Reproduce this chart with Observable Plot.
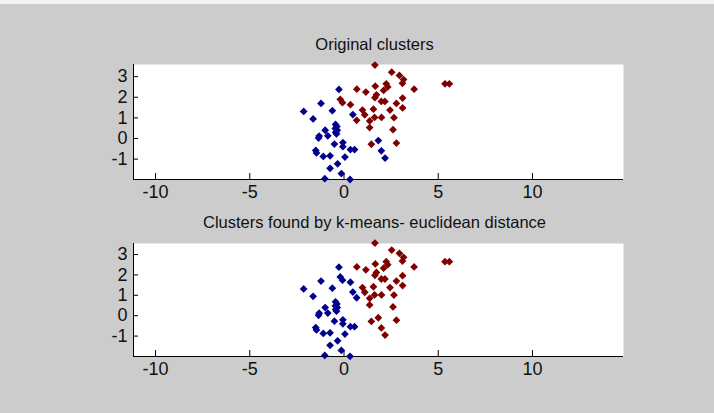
<!DOCTYPE html>
<html><head><meta charset="utf-8">
<script src="https://cdn.jsdelivr.net/npm/d3@7"></script>
<script src="https://cdn.jsdelivr.net/npm/@observablehq/plot@0.6"></script>
<style>
html,body{margin:0;padding:0;background:#cccccc;}
#fig{position:relative;width:714px;height:413px;background:#cccccc;overflow:hidden;}
#fig .topline{position:absolute;left:0;top:0;width:714px;height:4px;background:#f2f2f2;}
#fig svg{position:absolute;left:0;}
</style></head><body><div id="fig"><div class="topline"></div></div>
<script>
// point coordinates (same points in both panels)
const xValues = [1.64, 2.53, 2.94, 3.16, 3.10, 5.36, 5.59, 3.72, 1.66, 2.24, 2.32, 2.10, 0.68, 1.16, 1.72, 1.64, 1.98, 2.17, 3.11, 2.78, 3.11,
  -0.20, -0.08, 0.34, 0.98, 1.10, 1.56, 2.44, 1.62, 1.99, 2.65, 0.67, 1.36, 1.36, 2.60, 1.45, 2.78,
  -0.27, -1.22, -0.62, -2.14, -1.64, 0.47, -0.45, -0.38, -0.46, -0.36, -0.44, -0.40, -1.00, -0.86, -1.32, -1.35,
  -0.51, -0.06, -0.06, 1.82, 0.34, 0.56, -1.50, -1.46, 1.98, 2.18, -1.10, -0.74, 0.05, -0.34, -0.74, -0.14, -1.02, 0.32];
const yValues = [3.56, 3.22, 3.06, 2.86, 2.68, 2.65, 2.65, 2.39, 2.54, 2.65, 2.50, 2.33, 2.39, 2.25, 2.12, 1.98, 1.80, 1.80, 1.96, 1.70, 1.48,
  1.90, 1.74, 1.64, 1.38, 1.15, 1.42, 1.38, 1.02, 1.02, 1.01, 0.88, 0.85, 0.53, 0.43, -0.28, -0.22,
  2.38, 1.70, 1.35, 1.31, 0.95, 1.16, 0.68, 0.58, 0.48, 0.40, 0.30, 0.22, 0.40, 0.13, 0.12, 0.02,
  -0.27, -0.20, -0.40, -0.10, -0.54, -0.54, -0.58, -0.70, -0.60, -0.95, -0.87, -0.84, -0.90, -1.23, -1.45, -1.70, -1.95, -1.99];
// cluster labels: 1 = blue, 2 = red
const originalClusters = [2,2,2,2,2,2,2,2,2,2,2,2,2,2,2,2,2,2,2,2,2,
  2,2,2,2,2,2,2,2,2,2,2,2,2,2,2,2,
  1,1,1,1,1,1,1,1,1,1,1,1,1,1,1,1,
  1,1,1,1,1,1,1,1,1,1,1,1,1,1,1,1,1,1];
const kmeansClusters = [2,2,2,2,2,2,2,2,2,2,2,2,2,2,2,2,2,2,2,2,2,
  1,1,1,2,2,2,2,2,2,2,1,2,2,2,2,2,
  1,1,1,1,1,1,1,1,1,1,1,1,1,1,1,1,
  1,1,1,2,1,1,1,1,2,2,1,1,1,1,1,1,1,1];
const clusterIds = [1, 2];
const clusterColors = ["#00008c", "#800000"];
const xTicks = [-10, -5, 0, 5, 10];
const yTicks = [-1, 0, 1, 2, 3];
const xDomain = [-11.17, 14.83];
const titles = ["Original clusters", "Clusters found by k-means- euclidean distance"];

function subplot({title, labels, yDomain, height, marginTop, marginBottom, titleDy}) {
  const data = xValues.map((x, i) => ({x, y: yValues[i], cluster: labels[i]}));
  const marginLeft = 133, marginRight = 91, width = 714;
  const frameW = width - marginLeft - marginRight;
  const frameH = height - marginTop - marginBottom;
  const fmt = d => String(d);
  return Plot.plot({
    width, height, marginLeft, marginRight, marginTop, marginBottom,
    style: {background: "transparent", fontFamily: "'Liberation Sans', Arial, sans-serif", fontSize: "18px", color: "#111", overflow: "visible"},
    x: {domain: xDomain, ticks: xTicks, label: null, tickSize: 0, tickPadding: 6, tickFormat: fmt},
    y: {domain: yDomain, ticks: yTicks, label: null, tickSize: 0, tickPadding: 6, tickFormat: fmt},
    color: {type: "ordinal", domain: clusterIds, range: clusterColors},
    marks: [
      Plot.frame({fill: "white", stroke: null}),
      Plot.ruleX(xTicks, {insetTop: frameH - 6, stroke: "#000"}),
      Plot.ruleY(yTicks, {insetRight: frameW - 5, stroke: "#000"}),
      Plot.ruleY([yDomain[0]], {stroke: "#000"}),
      Plot.ruleX([xDomain[0]], {stroke: "#000"}),
      Plot.dot(data, {x: "x", y: "y", fill: "cluster", symbol: "diamond2", r: 3.5}),
      Plot.text([title], {text: d => d, frameAnchor: "top", dx: -4, dy: titleDy, lineAnchor: "middle", fontSize: 16.5, fill: "#111"})
    ]
  });
}

const fig = document.getElementById("fig");
const p1 = subplot({title: titles[0], labels: originalClusters, yDomain: [-1.99, 3.59], height: 210, marginTop: 64, marginBottom: 31, titleDy: -20});
p1.style.top = "0px";
fig.appendChild(p1);
const p2 = subplot({title: titles[1], labels: kmeansClusters, yDomain: [-2.0, 3.54], height: 203, marginTop: 33, marginBottom: 57, titleDy: -21});
p2.style.top = "210px";
fig.appendChild(p2);
</script></body></html>
